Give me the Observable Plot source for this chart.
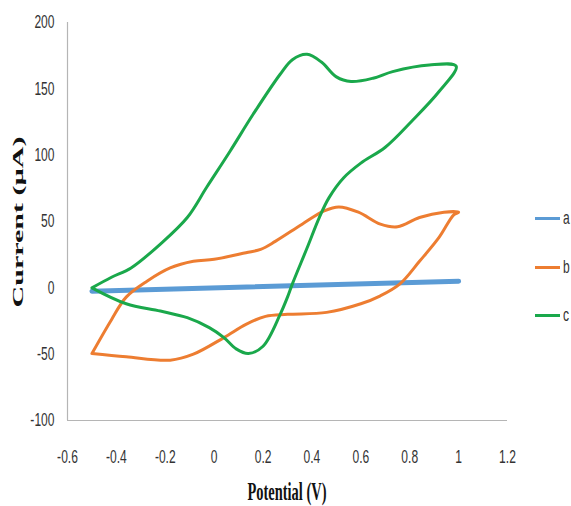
<!DOCTYPE html>
<html>
<head>
<meta charset="utf-8">
<script src="https://cdn.jsdelivr.net/npm/d3@7"></script>
<script src="https://cdn.jsdelivr.net/npm/@observablehq/plot@0.6"></script>
<style>
  html, body { margin: 0; padding: 0; background: #fff; }
  #wrap { position: relative; width: 571px; height: 506px; }
  .leg { position: absolute; display: flex; align-items: center; font-family: "Liberation Sans", Arial, sans-serif; font-size: 18px; color: #333; }
  .leg span.sw { display: inline-block; width: 25px; height: 3px; margin-right: 3px; }
  .leg span.lt { display: inline-block; transform: scaleX(0.67); transform-origin: left center; }
</style>
</head>
<body>
<div id="wrap"></div>
<script>
// Series labels and colours
const seriesNames = ["a", "b", "c"];
const seriesColors = ["#5b9bd5", "#ed7d31", "#1aa84b"];

// Axis ticks
const xTicks = [-0.6, -0.4, -0.2, 0, 0.2, 0.4, 0.6, 0.8, 1, 1.2];
const yTicks = [-100, -50, 0, 50, 100, 150, 200];

// Series a (blue)
const potentialA = [-0.5, 1.0];
const currentA = [-2.5, 5];

// Series b (orange) closed CV loop
const potentialB = [-0.5, -0.36, -0.18, -0.085, 0.04, 0.13, 0.21, 0.3, 0.46, 0.6, 0.68, 0.76, 0.84, 0.92, 0.98, 1.0,
  0.94, 0.84, 0.75, 0.68, 0.59, 0.51, 0.45, 0.36, 0.25, 0.19, 0.13, 0.0, -0.085, -0.18, -0.275, -0.36, -0.42, -0.5];
const currentB = [-49.5, -52, -54.5, -50, -37.5, -27.5, -21.5, -20, -18.5, -12, -6, 3, 20, 38, 55, 57,
  57, 53, 46, 48, 57, 61, 58, 48, 35, 29, 26.5, 21.5, 20, 15, 5, -7, -24, -49.5];

// Series c (green) closed CV loop
const potentialC = [-0.5, -0.42, -0.34, -0.22, -0.11, -0.03, 0.065, 0.16, 0.27, 0.32, 0.38, 0.44, 0.5, 0.56, 0.65, 0.73, 0.88, 0.99,
  0.92, 0.81, 0.70, 0.60, 0.53, 0.47, 0.43, 0.38, 0.32, 0.30, 0.27, 0.2, 0.14, 0.09, 0.04, -0.02, -0.11, -0.22, -0.36, -0.5];
const currentC = [0, 8, 15, 33, 53, 76, 103, 131, 161, 172, 176, 170, 159, 155.5, 158, 163, 168, 167,
  148, 126, 106, 94, 83, 68, 53, 30, 3, -7, -20, -44, -49.5, -46, -37.5, -30, -22.5, -17.5, -12, 0];

const toRows = (s, xs, ys) => xs.map((v, i) => ({series: s, v, i: ys[i]}));
const rowsA = toRows("a", potentialA, currentA);
const rowsB = toRows("b", potentialB, currentB);
const rowsC = toRows("c", potentialC, currentC);

const fmt = d => String(+d.toFixed(1));
const tickFont = '"Liberation Sans", Arial, sans-serif';

const chart = Plot.plot({
  width: 571,
  height: 506,
  marginLeft: 67,
  marginTop: 22,
  marginBottom: 86,
  marginRight: 64,
  style: {fontFamily: tickFont, fontSize: "18px", color: "#333", background: "white"},
  x: {domain: [-0.6, 1.2], ticks: xTicks, tickFormat: fmt, tickSize: 0, tickPadding: 30, label: null},
  y: {domain: [-100, 200], ticks: yTicks, tickFormat: fmt, tickSize: 0, tickPadding: 13, label: null},
  color: {domain: seriesNames, range: seriesColors},
  marks: [
    Plot.ruleX([-0.6], {stroke: "#b5b5b5", strokeWidth: 1.2}),
    Plot.ruleY([-100], {stroke: "#b5b5b5", strokeWidth: 1.2}),
    Plot.line(rowsA, {x: "v", y: "i", stroke: "series", strokeWidth: 5}),
    Plot.line(rowsB, {x: "v", y: "i", stroke: "series", strokeWidth: 3, curve: "catmull-rom"}),
    Plot.line(rowsC, {x: "v", y: "i", stroke: "series", strokeWidth: 3, curve: "catmull-rom"})
  ]
});

const wrap = document.getElementById("wrap");
wrap.appendChild(chart);

const svg = d3.select(chart);
// Larger, horizontally narrowed tick labels (scaled around each label's anchor point)
svg.selectAll('g[aria-label="x-axis tick label"], g[aria-label="y-axis tick label"]')
  .attr("font-size", 18).style("font-size", "18px");
svg.selectAll('g[aria-label="x-axis tick label"] text, g[aria-label="y-axis tick label"] text').each(function () {
  const el = d3.select(this);
  el.style("font-size", "18px").attr("fill", "#333");
  let tr = el.attr("transform");
  if (!tr) {
    const x = +el.attr("x") || 0, y = +el.attr("y") || 0;
    tr = `translate(${x},${y})`;
    el.attr("x", null).attr("y", null);
  }
  el.attr("transform", tr + " scale(0.67,1)");
});

svg.append("text")
  .attr("transform", "translate(18,222) rotate(-90)")
  .attr("text-anchor", "middle")
  .attr("dominant-baseline", "central")
  .attr("font-family", '"Liberation Serif", serif')
  .attr("font-weight", "bold")
  .attr("font-size", 15)
  .attr("fill", "#111")
  .attr("textLength", 171)
  .attr("lengthAdjust", "spacingAndGlyphs")
  .text("Current (µA)");
svg.append("text")
  .attr("x", 287)
  .attr("y", 500)
  .attr("text-anchor", "middle")
  .attr("font-family", '"Liberation Serif", serif')
  .attr("font-weight", "bold")
  .attr("font-size", 25)
  .attr("fill", "#111")
  .attr("textLength", 79)
  .attr("lengthAdjust", "spacingAndGlyphs")
  .text("Potential (V)");

// Legend on the right
const legendTops = [218, 267, 315];
seriesNames.forEach((name, k) => {
  const item = document.createElement("div");
  item.className = "leg";
  item.style.left = "535px";
  item.style.top = (legendTops[k] - 11) + "px";
  item.style.height = "22px";
  const sw = document.createElement("span");
  sw.className = "sw";
  sw.style.background = seriesColors[k];
  item.appendChild(sw);
  const t = document.createElement("span");
  t.className = "lt";
  t.textContent = name;
  item.appendChild(t);
  wrap.appendChild(item);
});
</script>
</body>
</html>
